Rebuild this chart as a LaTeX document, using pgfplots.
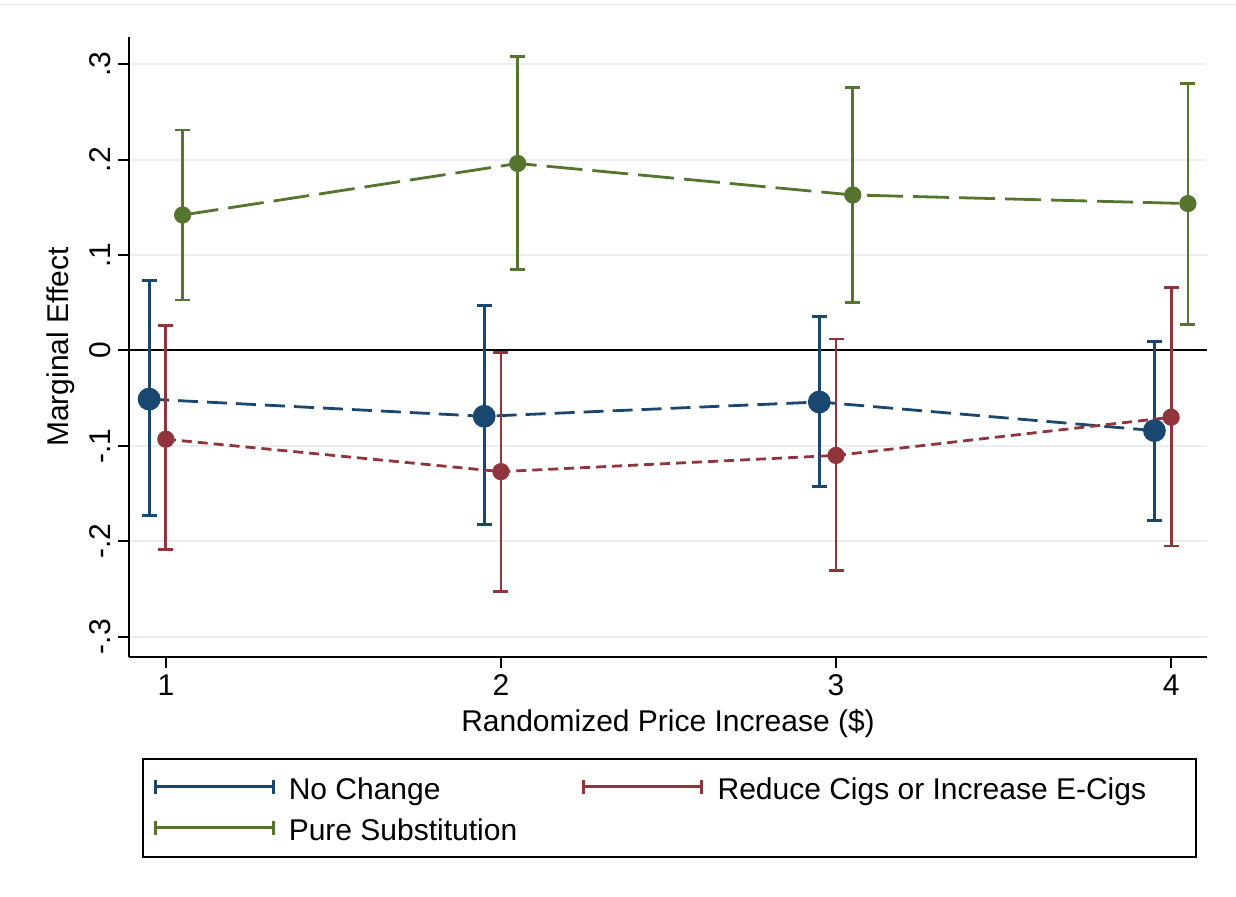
\documentclass[border=0pt]{standalone}
\usepackage{fontspec}
\setmainfont{Liberation Sans}
\usepackage{pgfplots}
\usepackage{pgfplotstable}
\pgfplotsset{compat=1.18}
\definecolor{navy}{RGB}{26,71,111}
\definecolor{maroon}{RGB}{144,53,59}
\definecolor{fgreen}{RGB}{85,117,47}
\definecolor{gridc}{RGB}{232,238,242}

\pgfplotstableread{
x y lo hi
0.95 -0.051 -0.173 0.073
1.95 -0.069 -0.182 0.047
2.95 -0.054 -0.143 0.036
3.95 -0.084 -0.178 0.009
}\nochange

\pgfplotstableread{
x y lo hi
1 -0.093 -0.209 0.026
2 -0.127 -0.253 -0.002
3 -0.110 -0.231 0.012
4 -0.070 -0.205 0.066
}\reduce

\pgfplotstableread{
x y lo hi
1.05 0.142 0.053 0.231
2.05 0.196 0.085 0.308
3.05 0.163 0.050 0.276
4.05 0.154 0.027 0.280
}\pure

\pgfplotsset{
  ebar/.style={
    /pgfplots/error bars/y dir=both,
    /pgfplots/error bars/y explicit,
    /pgfplots/error bars/error bar style={line width=1.4bp, solid},
    /pgfplots/error bars/error mark options={rotate=90, mark size=3.75bp, line width=1.4bp, solid},
  },
}

\begin{document}
\begin{tikzpicture}
\useasboundingbox (0,0) rectangle (618bp,448.5bp);
\draw[black!8, line width=0.5bp] (0,446bp) -- (618bp,446bp);
\begin{axis}[
  at={(64.5bp,120bp)}, anchor=south west,
  scale only axis, width=539bp, height=310bp,
  xmin=0.890, xmax=4.107, ymin=-0.3213, ymax=0.3286,
  axis x line*=bottom, axis y line*=left,
  axis line style={black, line width=1bp},
  tick style={black, line width=1bp},
  major tick length=5.5bp, tick align=outside,
  xtick={1,2,3,4},
  ytick={-0.3,-0.2,-0.1,0,0.1,0.2,0.3},
  yticklabels={-.3,-.2,-.1,0,.1,.2,.3},
  yticklabel style={rotate=90, anchor=south},
  ymajorgrids, grid style={gridc, line width=1bp},
  /pgf/number format/assume math mode=true,
  ticklabel style={font=\fontsize{15bp}{18bp}\selectfont},
  label style={font=\fontsize{15bp}{18bp}\selectfont},
  xlabel={Randomized Price Increase (\$)},
  ylabel={Marginal Effect},
  xlabel style={at={(axis description cs:0.5,-0.1200)}, anchor=base},
  ylabel style={at={(axis description cs:-0.0631,0.5)}, anchor=center, rotate=0},
  legend columns=2,
  legend cell align=left,
  legend image code/.code={
    \draw[#1, solid, line width=1.4bp, mark=none] (0bp,0.45bp) -- (59bp,0.45bp);
    \draw[#1, solid, line width=1.4bp, mark=none] (0bp,-3.05bp) -- (0bp,3.95bp) (59bp,-3.05bp) -- (59bp,3.95bp);
  },
  legend style={
    at={(axis description cs:0.01206,-0.1629)}, anchor=north west,
    draw=black, line width=1bp,
    font=\fontsize{15bp}{18bp}\selectfont,
    inner xsep=5.5bp, inner ysep=7bp,
    column sep=0pt, row sep=6bp,
    nodes={inner sep=0pt, text height=13bp, text depth=1.5bp},
  },
]
\addplot[black, line width=1bp, forget plot, mark=none] coordinates {(0.890,0) (4.107,0)};

\addplot[navy, line width=1.4bp, dash pattern=on 10bp off 4.5bp,
  mark=*, mark size=5bp, mark options={solid, fill=navy}, ebar]
  table[x=x, y=y, y error plus expr=\thisrow{hi}-\thisrow{y}, y error minus expr=\thisrow{y}-\thisrow{lo}] {\nochange};
\addlegendentry{\makebox[153.5bp][l]{\hspace{7bp}No Change}}

\addplot[maroon, line width=1.4bp, dash pattern=on 5bp off 3bp,
  mark=*, mark size=3.6bp, mark options={solid, fill=maroon}, ebar]
  table[x=x, y=y, y error plus expr=\thisrow{hi}-\thisrow{y}, y error minus expr=\thisrow{y}-\thisrow{lo}] {\reduce};
\addlegendentry{\makebox[241bp][l]{\hspace{7.5bp}Reduce Cigs or Increase E-Cigs}}

\addplot[fgreen, line width=1.4bp, dash pattern=on 18bp off 5bp,
  mark=*, mark size=3.6bp, mark options={solid, fill=fgreen}, ebar]
  table[x=x, y=y, y error plus expr=\thisrow{hi}-\thisrow{y}, y error minus expr=\thisrow{y}-\thisrow{lo}] {\pure};
\addlegendentry{\makebox[153.5bp][l]{\hspace{7bp}Pure Substitution}}
\end{axis}
\end{tikzpicture}
\end{document}
